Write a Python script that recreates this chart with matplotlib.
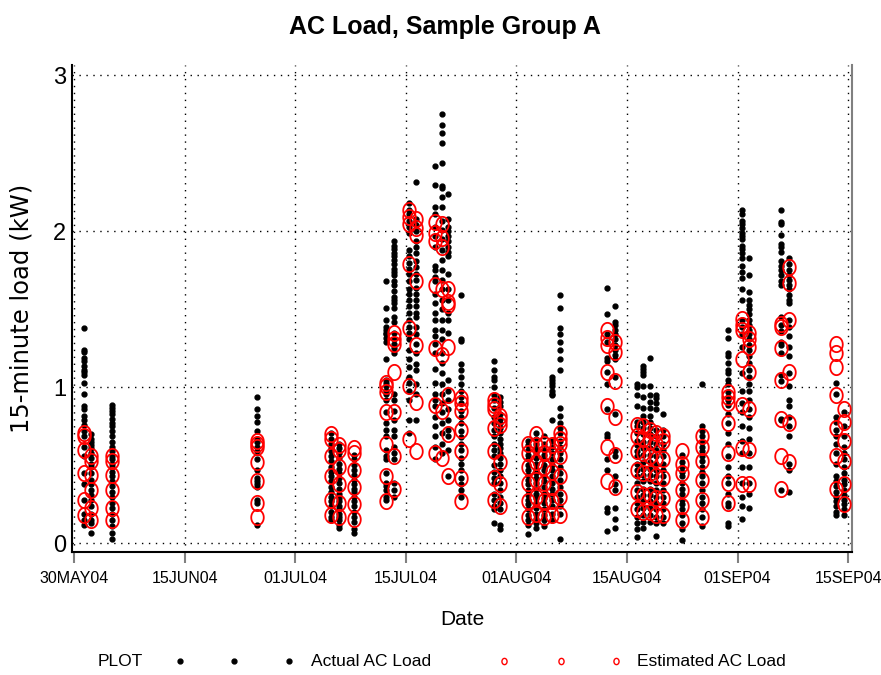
import numpy as np
import matplotlib
matplotlib.use("Agg")
import matplotlib.pyplot as plt
from matplotlib.path import Path
from matplotlib.lines import Line2D

# ---------------- data ----------------
tick_dates = ["2004-05-30", "2004-06-15", "2004-07-01", "2004-07-15",
              "2004-08-01", "2004-08-15", "2004-09-01", "2004-09-15"]
tick_labels = ["30MAY04", "15JUN04", "01JUL04", "15JUL04",
               "01AUG04", "15AUG04", "01SEP04", "15SEP04"]

dates = ["2004-05-31", "2004-06-01", "2004-06-04", "2004-06-25",
         "2004-07-05", "2004-07-06", "2004-07-08", "2004-07-12", "2004-07-13",
         "2004-07-15", "2004-07-16", "2004-07-19", "2004-07-20", "2004-07-21",
         "2004-07-23", "2004-07-28", "2004-07-29", "2004-08-02", "2004-08-03",
         "2004-08-04", "2004-08-05", "2004-08-06", "2004-08-12", "2004-08-13",
         "2004-08-16", "2004-08-17", "2004-08-18", "2004-08-19", "2004-08-20",
         "2004-08-23", "2004-08-26", "2004-08-30", "2004-09-01", "2004-09-02",
         "2004-09-06", "2004-09-07", "2004-09-13", "2004-09-14"]

act_0531 = [1.38,1.24,1.23,1.19,1.17,1.14,1.11,1.10,1.08,1.03,0.96,0.88,0.86,0.82,0.79,0.76,0.72,0.69,0.62,0.56,0.45,0.38,0.28,0.19,0.15,0.12]
est_0531 = [0.71,0.69,0.60,0.45,0.28,0.18]
act_0601 = [0.70,0.67,0.65,0.63,0.61,0.58,0.55,0.51,0.49,0.45,0.41,0.38,0.34,0.31,0.28,0.24,0.19,0.15,0.13,0.07]
est_0601 = [0.56,0.53,0.44,0.34,0.23,0.15]
act_0604 = [0.89,0.87,0.85,0.83,0.80,0.77,0.75,0.72,0.69,0.65,0.62,0.59,0.56,0.54,0.51,0.49,0.46,0.43,0.40,0.37,0.33,0.30,0.26,0.23,0.19,0.15,0.11,0.07,0.03]
est_0604 = [0.56,0.53,0.44,0.34,0.23,0.15]
act_0625 = [0.94,0.86,0.82,0.78,0.72,0.67,0.65,0.62,0.59,0.54,0.47,0.42,0.40,0.38,0.36,0.28,0.26,0.12]
est_0625 = [0.66,0.64,0.62,0.52,0.40,0.26,0.17]
act_0705 = [0.71,0.67,0.64,0.61,0.59,0.56,0.53,0.49,0.46,0.43,0.40,0.36,0.33,0.30,0.27,0.24,0.20,0.17,0.15]
est_0705 = [0.70,0.67,0.56,0.43,0.28,0.18]
act_0706 = [0.64,0.61,0.58,0.55,0.51,0.48,0.45,0.42,0.39,0.35,0.32,0.29,0.27,0.24,0.22,0.19,0.17,0.15,0.12,0.10]
est_0706 = [0.63,0.60,0.49,0.38,0.26,0.17]
act_0708 = [0.57,0.54,0.50,0.47,0.44,0.41,0.38,0.35,0.33,0.30,0.27,0.24,0.20,0.17,0.14,0.09,0.07]
est_0708 = [0.61,0.58,0.47,0.36,0.25,0.16]
act_0712 = [1.68,1.51,1.43,1.39,1.37,1.35,1.34,1.32,1.29,1.18,1.05,1.03,1.01,0.98,0.96,0.92,0.84,0.77,0.73,0.69,0.60,0.56,0.54,0.45,0.39,0.37,0.34,0.30,0.28]
est_0712 = [1.03,1.01,0.97,0.84,0.64,0.43,0.27]
act_0713 = [1.94,1.91,1.89,1.86,1.84,1.82,1.79,1.76,1.74,1.72,1.68,1.66,1.62,1.58,1.56,1.54,1.51,1.45,1.42,1.35,1.31,1.28,1.25,1.22,0.96,0.92,0.85,0.79,0.73,0.69,0.62,0.58,0.54,0.39,0.34,0.30]
est_0713 = [1.35,1.31,1.28,1.10,0.84,0.56,0.35]
act_0715 = [2.18,2.14,2.11,2.07,2.03,1.99,1.88,1.84,1.80,1.76,1.73,1.68,1.63,1.60,1.56,1.52,1.48,1.43,1.39,1.35,1.31,1.24,1.18,1.13,1.07,1.03,0.98,0.92,0.79,0.71]
est_0715 = [2.14,2.09,2.05,1.79,1.38,1.01,0.67]
act_0716 = [2.32,2.08,2.04,2.00,1.94,1.90,1.86,1.81,1.77,1.73,1.69,1.64,1.60,1.56,1.52,1.48,1.45,1.39,1.34,1.28,1.22,1.15,1.11,1.02,0.96,0.79]
est_0716 = [2.08,2.02,1.98,1.68,1.27,0.91,0.59]
act_0719 = [2.42,2.30,2.16,2.11,2.03,1.97,1.90,1.78,1.75,1.71,1.68,1.60,1.54,1.48,1.43,1.37,1.33,1.28,1.22,1.12,1.03,0.96,0.92,0.88,0.81,0.75,0.69,0.62,0.54]
est_0719 = [2.06,1.99,1.94,1.66,1.25,0.89,0.58]
act_0720 = [2.75,2.68,2.63,2.57,2.44,2.29,2.28,2.22,2.16,2.07,2.01,1.95,1.88,1.82,1.75,1.69,1.63,1.56,1.50,1.43,1.37,1.31,1.22,1.16,1.09,1.02,0.96,0.90,0.84,0.77,0.71,0.64,0.58]
est_0720 = [2.05,1.96,1.90,1.63,1.21,0.85,0.55]
act_0721 = [2.24,2.08,2.03,2.00,1.97,1.94,1.90,1.87,1.84,1.73,1.63,1.56,1.48,1.43,1.35,1.05,0.98,0.92,0.86,0.79,0.73,0.69,0.60,0.43]
est_0721 = [1.63,1.55,1.53,1.26,0.95,0.70,0.43]
act_0723 = [1.59,1.31,1.30,1.15,1.11,1.07,1.02,0.98,0.94,0.90,0.85,0.81,0.77,0.72,0.68,0.64,0.60,0.55,0.51,0.47,0.42,0.38,0.34,0.30]
est_0723 = [0.93,0.90,0.85,0.73,0.59,0.42,0.27]
act_0728 = [1.17,1.11,1.07,1.05,1.00,0.95,0.92,0.87,0.81,0.77,0.73,0.69,0.64,0.60,0.56,0.50,0.46,0.42,0.39,0.32,0.28,0.24,0.22,0.13]
est_0728 = [0.92,0.89,0.86,0.74,0.59,0.42,0.28]
act_0729 = [0.94,0.91,0.88,0.83,0.80,0.77,0.74,0.71,0.67,0.64,0.61,0.58,0.55,0.51,0.47,0.43,0.39,0.34,0.30,0.26,0.22,0.12,0.09]
est_0729 = [0.82,0.79,0.76,0.52,0.38,0.24]
act_0802 = [0.66,0.63,0.60,0.57,0.54,0.50,0.47,0.44,0.41,0.38,0.34,0.31,0.28,0.25,0.22,0.18,0.15,0.12,0.06]
est_0802 = [0.64,0.58,0.49,0.39,0.27,0.17]
act_0803 = [0.71,0.67,0.64,0.61,0.58,0.55,0.51,0.48,0.45,0.42,0.39,0.35,0.32,0.29,0.26,0.23,0.19,0.16,0.13,0.10]
est_0803 = [0.70,0.63,0.52,0.41,0.30,0.19]
act_0804 = [0.69,0.64,0.60,0.57,0.54,0.50,0.47,0.43,0.40,0.36,0.32,0.29,0.26,0.22,0.18,0.15,0.11]
est_0804 = [0.64,0.58,0.49,0.39,0.27,0.17]
act_0805 = [1.07,1.05,1.03,1.01,0.98,0.96,0.95,0.79,0.66,0.62,0.58,0.54,0.50,0.47,0.43,0.39,0.35,0.32,0.28,0.24,0.19,0.15]
est_0805 = [0.63,0.57,0.46,0.36,0.27,0.18]
act_0806 = [1.59,1.51,1.38,1.34,1.29,1.24,1.18,1.11,0.87,0.82,0.77,0.74,0.71,0.66,0.62,0.58,0.54,0.49,0.45,0.41,0.36,0.32,0.28,0.24,0.19,0.03]
est_0806 = [0.71,0.67,0.64,0.56,0.43,0.30,0.18]
act_0812 = [1.64,1.47,1.34,1.29,1.19,1.17,1.10,1.02,0.86,0.70,0.68,0.54,0.47,0.23,0.20,0.08]
est_0812 = [1.37,1.32,1.27,1.10,0.88,0.62,0.40]
act_0813 = [1.52,1.42,1.40,1.37,1.34,1.31,1.27,1.24,1.21,1.18,1.07,0.83,0.59,0.56,0.43,0.38,0.34,0.23,0.16,0.10]
est_0813 = [1.29,1.23,1.04,0.81,0.57,0.36]
act_0816 = [1.02,1.00,0.95,0.88,0.78,0.75,0.71,0.66,0.63,0.59,0.56,0.51,0.47,0.43,0.39,0.34,0.30,0.26,0.22,0.17,0.13,0.09,0.04]
est_0816 = [0.76,0.69,0.59,0.47,0.33,0.22]
act_0817 = [1.14,1.12,1.10,1.08,1.01,0.94,0.87,0.82,0.78,0.74,0.70,0.65,0.61,0.57,0.52,0.48,0.44,0.40,0.35,0.31,0.27,0.23,0.18,0.14,0.10]
est_0817 = [0.75,0.67,0.58,0.45,0.31,0.20]
act_0818 = [1.19,1.01,0.95,0.91,0.87,0.82,0.78,0.74,0.70,0.65,0.61,0.57,0.52,0.48,0.44,0.40,0.35,0.31,0.27,0.23,0.18,0.14]
est_0818 = [0.73,0.66,0.56,0.45,0.31,0.20]
act_0819 = [0.95,0.93,0.90,0.86,0.73,0.69,0.64,0.60,0.56,0.51,0.47,0.43,0.39,0.34,0.30,0.26,0.22,0.17,0.13,0.05]
est_0819 = [0.71,0.64,0.54,0.43,0.29,0.18]
act_0820 = [0.83,0.73,0.69,0.64,0.60,0.56,0.51,0.47,0.43,0.39,0.34,0.30,0.26,0.22,0.17,0.13]
est_0820 = [0.69,0.66,0.54,0.42,0.29,0.18]
act_0823 = [0.57,0.52,0.49,0.46,0.43,0.39,0.35,0.32,0.28,0.25,0.22,0.18,0.13,0.09,0.02]
est_0823 = [0.59,0.51,0.45,0.34,0.24,0.15]
act_0826 = [1.02,0.75,0.72,0.69,0.65,0.62,0.59,0.56,0.53,0.49,0.46,0.43,0.39,0.34,0.30,0.26,0.22,0.17,0.11]
est_0826 = [0.69,0.62,0.53,0.41,0.28,0.17]
act_0830 = [1.37,1.32,1.22,1.20,1.16,1.11,1.09,1.05,1.02,0.97,0.94,0.92,0.89,0.83,0.77,0.71,0.64,0.56,0.49,0.43,0.39,0.32,0.26,0.24,0.13,0.11]
est_0830 = [0.97,0.94,0.90,0.77,0.58,0.39,0.26]
act_0901 = [2.14,2.11,2.07,2.05,2.02,1.99,1.97,1.95,1.91,1.89,1.86,1.83,1.78,1.74,1.70,1.63,1.56,1.43,1.39,1.34,1.26,1.09,0.98,0.90,0.84,0.75,0.66,0.58,0.49,0.39,0.30,0.24,0.16]
est_0901 = [1.44,1.40,1.37,1.18,0.89,0.61,0.38]
act_0902 = [1.83,1.72,1.61,1.56,1.53,1.50,1.47,1.43,1.40,1.37,1.34,1.31,1.27,1.24,1.20,1.16,1.11,1.07,1.02,0.98,0.92,0.86,0.81,0.74,0.67,0.58,0.49,0.39,0.32,0.23]
est_0902 = [1.35,1.31,1.26,1.10,0.86,0.60,0.38]
act_0906 = [2.14,2.06,2.05,1.98,1.92,1.90,1.87,1.81,1.78,1.75,1.72,1.68,1.66,1.45,1.40,1.36,1.29,1.27,1.22,1.08,1.04,0.80,0.79,0.34]
est_0906 = [1.41,1.39,1.25,1.05,0.80,0.56,0.35]
act_0907 = [1.83,1.79,1.75,1.72,1.69,1.66,1.63,1.59,1.56,1.54,1.43,1.39,1.33,1.26,1.20,1.09,1.01,0.92,0.88,0.81,0.75,0.69,0.51,0.47,0.33]
est_0907 = [1.77,1.67,1.43,1.10,0.77,0.52]
act_0913 = [1.03,0.96,0.81,0.78,0.73,0.69,0.64,0.58,0.51,0.43,0.40,0.37,0.33,0.30,0.27,0.24,0.20,0.18]
est_0913 = [1.28,1.22,1.13,0.95,0.74,0.56,0.35]
act_0914 = [0.84,0.75,0.69,0.62,0.58,0.54,0.49,0.45,0.41,0.38,0.34,0.31,0.28,0.25,0.22,0.18]
est_0914 = [0.86,0.78,0.66,0.53,0.38,0.25]

actual = [act_0531, act_0601, act_0604, act_0625, act_0705, act_0706, act_0708,
          act_0712, act_0713, act_0715, act_0716, act_0719, act_0720, act_0721,
          act_0723, act_0728, act_0729, act_0802, act_0803, act_0804, act_0805,
          act_0806, act_0812, act_0813, act_0816, act_0817, act_0818, act_0819,
          act_0820, act_0823, act_0826, act_0830, act_0901, act_0902, act_0906,
          act_0907, act_0913, act_0914]
estimated = [est_0531, est_0601, est_0604, est_0625, est_0705, est_0706, est_0708,
             est_0712, est_0713, est_0715, est_0716, est_0719, est_0720, est_0721,
             est_0723, est_0728, est_0729, est_0802, est_0803, est_0804, est_0805,
             est_0806, est_0812, est_0813, est_0816, est_0817, est_0818, est_0819,
             est_0820, est_0823, est_0826, est_0830, est_0901, est_0902, est_0906,
             est_0907, est_0913, est_0914]

# ---------------- helpers ----------------
base = np.datetime64("2004-05-30")
def to_days(d):
    return float((np.datetime64(d) - base) / np.timedelta64(1, "D"))

tick_days = np.array([to_days(d) for d in tick_dates])
# SAS places the listed dates at evenly spaced ticks; map piecewise-linearly
ext_days = np.concatenate([[tick_days[0] - 16], tick_days, [tick_days[-1] + 16]])
ext_idx = np.arange(-1, len(tick_days) + 1, dtype=float)

def fwd(x):
    return np.interp(x, ext_days, ext_idx)

def inv(y):
    return np.interp(y, ext_idx, ext_days)

# open ellipse marker for the estimated values
t = np.linspace(0, 2 * np.pi, 61)
ell = Path(np.column_stack([0.82 * np.cos(t), np.sin(t)]), closed=True)

SANS = ["Liberation Sans", "DejaVu Sans"]

# ---------------- figure ----------------
fig = plt.figure(figsize=(8.81, 6.75), dpi=100)
ax = fig.add_axes([72 / 881, 123 / 675, 780 / 881, 487 / 675])
ax.set_xscale("function", functions=(fwd, inv))

for d, a in zip(dates, actual):
    x = to_days(d) + 0.5  # observations plotted at mid-day
    ax.plot(np.full(len(a), x), a, ls="none", marker="o", ms=3.5,
            color="black", mec="black", zorder=3)
for d, e in zip(dates, estimated):
    x = to_days(d) + 0.5
    ax.plot(np.full(len(e), x), e, ls="none", marker=ell, ms=11,
            mfc="none", mec="#ff0000", mew=1.3, zorder=4)

ax.set_xlim(inv(-0.018), inv(7.034))
ax.set_ylim(-0.0545, 3.067)

ax.set_xticks(tick_days)
ax.set_xticklabels(tick_labels, fontfamily=SANS, fontsize=11.5)
ax.set_yticks([0, 1, 2, 3])
ax.set_yticklabels(["0", "1", "2", "3"], fontfamily=SANS, fontsize=17)
ax.tick_params(axis="x", direction="out", length=8, width=1.5,
               color="#808080", pad=6)
ax.tick_params(axis="y", length=0, pad=4)

ax.grid(True, color="black", linestyle=(0, (1, 4)), linewidth=1.0, zorder=1)
ax.set_axisbelow(True)

for s in ("left", "bottom"):
    ax.spines[s].set_linewidth(1.5)
    ax.spines[s].set_color("black")
ax.spines["right"].set_color("#808080")
ax.spines["right"].set_linewidth(1.5)
ax.spines["top"].set_visible(False)

ax.set_ylabel("15-minute load (kW)", fontfamily=["DejaVu Sans"], fontsize=17.5)
ax.yaxis.set_label_coords(-38 / 780, 0.5)
ax.set_xlabel("Date", fontfamily=SANS, fontsize=15)
ax.xaxis.set_label_coords(0.5, -58 / 487)

fig.text(445 / 881, 1 - 27 / 675, "AC Load, Sample Group A",
         fontfamily=SANS, fontweight="bold", fontsize=18,
         ha="center", va="center")

# ---------------- legend ----------------
ly = 1 - 661 / 675
fig.text(98 / 881, ly, "PLOT", fontfamily=SANS, fontsize=12.5, va="center")
fig.add_artist(Line2D(np.array([180, 234, 289]) / 881, [ly] * 3,
                      transform=fig.transFigure, ls="none", marker="o",
                      ms=3.5, color="black"))
fig.text(311 / 881, ly, "Actual AC Load", fontfamily=SANS, fontsize=12.5,
         va="center")
fig.add_artist(Line2D(np.array([504, 561, 616]) / 881, [ly] * 3,
                      transform=fig.transFigure, ls="none", marker=ell,
                      ms=4.5, mfc="none", mec="#ff0000", mew=1.0))
fig.text(637 / 881, ly, "Estimated AC Load", fontfamily=SANS, fontsize=12.5,
         va="center")

fig.savefig("out.png", dpi=100)
